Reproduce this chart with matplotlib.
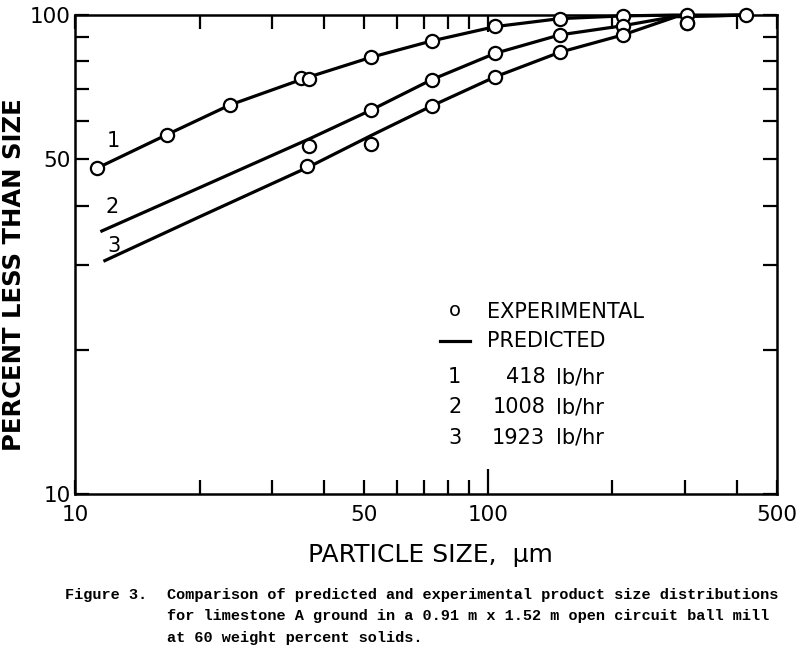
import numpy as np
import matplotlib
matplotlib.use('Agg')
import matplotlib.pyplot as plt
from matplotlib.lines import Line2D

# Experimental points (particle size um, percent less than size)
exp1_x = [11.3, 16.7, 23.7, 35.3, 36.8, 52, 73, 104, 149, 212, 303, 422]
exp1_y = [47.9, 56.3, 64.9, 74.0, 73.6, 81.6, 88.3, 95.0, 98.3, 99.6, 100, 100]
exp2_x = [36.8, 52, 73, 104, 149, 212, 303]
exp2_y = [53.4, 63.3, 73.3, 83.2, 90.9, 95.0, 96.3]
exp3_x = [36.5, 52, 73, 104, 149, 212, 303]
exp3_y = [48.3, 53.8, 64.6, 74.3, 83.6, 90.9, 96.3]

# Predicted curves
pred1_x = [11.3, 16.7, 23.7, 36, 52, 73, 104, 149, 212, 280, 425]
pred1_y = [47.9, 56.3, 64.9, 73.8, 81.6, 88.3, 94.6, 98.3, 99.6, 100, 100]
pred2_x = [11.6, 20, 37, 52, 73, 104, 149, 212, 285, 425]
pred2_y = [35.4, 43.6, 55.2, 63.3, 73.3, 83.2, 90.9, 95.0, 99.4, 100]
pred3_x = [11.8, 20, 37, 52, 73, 104, 149, 212, 285, 425]
pred3_y = [30.7, 37.9, 48.3, 56.0, 64.6, 74.3, 83.6, 90.9, 99.2, 100]

curve_labels = ['1', '2', '3']
label_x = [12.4, 12.3, 12.4]
label_y = [54.5, 39.8, 33.0]

legend_rows = [('1', '418'), ('2', '1008'), ('3', '1923')]

caption = ['Comparison of predicted and experimental product size distributions',
           'for limestone A ground in a 0.91 m x 1.52 m open circuit ball mill',
           'at 60 weight percent solids.']

fig = plt.figure(figsize=(8, 6.55), dpi=100)
ax = fig.add_axes([0.094, 0.246, 0.877, 0.731])
ax.set_xscale('log')
ax.set_yscale('log')
ax.set_xlim(10, 500)
ax.set_ylim(10, 100)

for px, py in [(pred1_x, pred1_y), (pred2_x, pred2_y), (pred3_x, pred3_y)]:
    ax.plot(px, py, color='black', linewidth=2.3, clip_on=False, zorder=2)
for ex, ey in [(exp1_x, exp1_y), (exp2_x, exp2_y), (exp3_x, exp3_y)]:
    ax.plot(ex, ey, 'o', markersize=9.5, markerfacecolor='white',
            markeredgecolor='black', markeredgewidth=1.6, clip_on=False, zorder=3)

for t, lx, ly in zip(curve_labels, label_x, label_y):
    ax.text(lx, ly, t, fontsize=15, ha='center', va='center')

# ticks
xt = [10, 20, 30, 40, 50, 60, 70, 80, 90, 100, 200, 300, 400, 500]
ax.set_xticks(xt)
ax.set_xticklabels([str(v) if v in (10, 50, 100, 500) else '' for v in xt])
ax.xaxis.set_minor_locator(plt.NullLocator())
yt = [10, 20, 30, 40, 50, 60, 70, 80, 90, 100]
ax.set_yticks(yt)
ax.set_yticklabels([str(v) if v in (10, 50, 100) else '' for v in yt])
ax.yaxis.set_minor_locator(plt.NullLocator())
ax.tick_params(which='major', direction='in', length=10, width=1.6,
               top=True, right=True, labelsize=15.5, pad=8)
ax.tick_params(axis='y', pad=3)
for s in ax.spines.values():
    s.set_linewidth(1.8)
i100 = xt.index(100)
tk = ax.xaxis.get_major_ticks()[i100]
tk.tick1line.set_markersize(18)
tk.tick2line.set_markersize(12)

# legend block
ax.text(0.541, 0.382, 'o', transform=ax.transAxes, fontsize=14, ha='center', va='center')
ax.text(0.587, 0.380, 'EXPERIMENTAL', transform=ax.transAxes, fontsize=15, va='center')
ax.add_line(Line2D([0.520, 0.563], [0.319, 0.319], transform=ax.transAxes,
                   color='black', linewidth=2.3))
ax.text(0.587, 0.319, 'PREDICTED', transform=ax.transAxes, fontsize=15, va='center')
for k, (n, rate) in enumerate(legend_rows):
    yy = 0.244 - k * 0.0635
    ax.text(0.541, yy, n, transform=ax.transAxes, fontsize=15, ha='center', va='center')
    ax.text(0.670, yy, rate, transform=ax.transAxes, fontsize=15, ha='right', va='center')
    ax.text(0.686, yy, 'lb/hr', transform=ax.transAxes, fontsize=15, va='center')

fig.text(0.5375, 0.153, 'PARTICLE SIZE,  \u03bcm', fontsize=18, ha='center', va='center')
fig.text(0.018, 0.58, 'PERCENT LESS THAN SIZE', fontsize=17.5, fontweight='bold',
         rotation=90, ha='center', va='center')

fig.text(0.081, 0.0916, 'Figure 3.', fontsize=11, family='Liberation Mono',
         fontweight='bold', va='center')
for k, line in enumerate(caption):
    fig.text(0.209, 0.0916 - k * 0.0328, line, fontsize=11, family='Liberation Mono',
             fontweight='bold', va='center')

fig.savefig('out.png', dpi=100)
